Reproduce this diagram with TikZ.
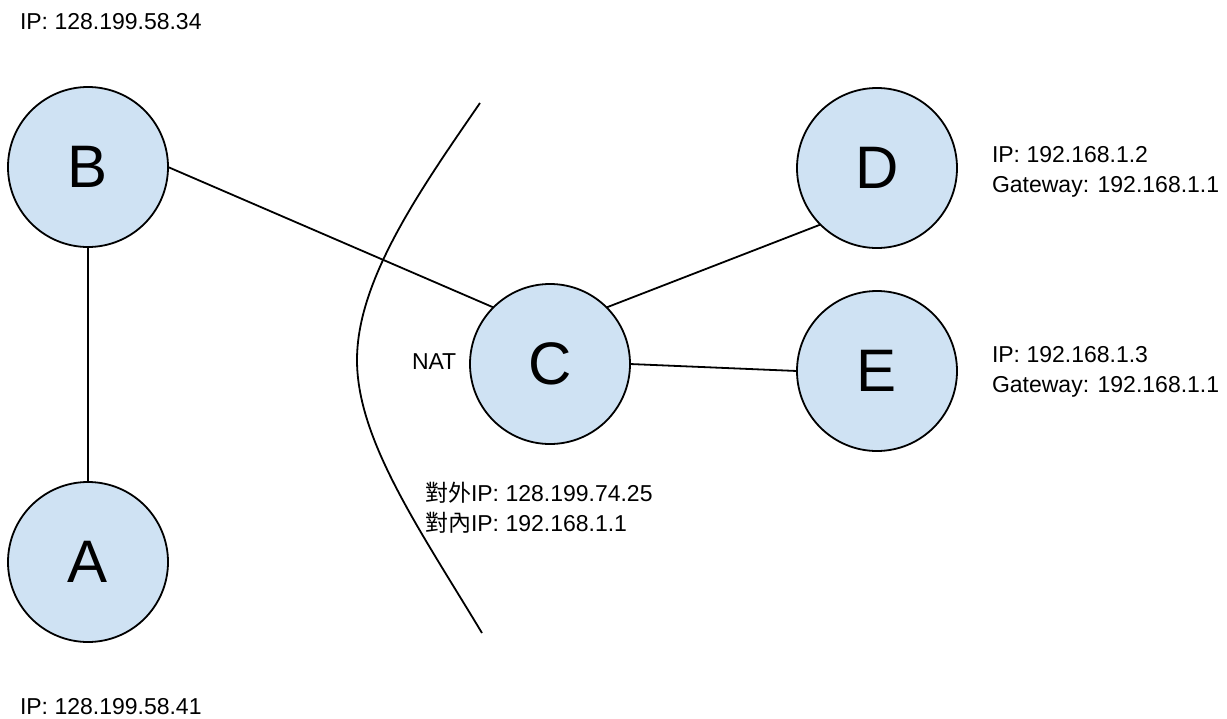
\documentclass[tikz,border=0pt]{standalone}
\usepackage{fontspec}
\setmainfont{Liberation Sans}
\newfontfamily\cjk{Noto Sans CJK TC}
\definecolor{hostblue}{HTML}{CFE2F3}
\begin{document}
\begin{tikzpicture}[y=1pt, x=1pt, yscale=-1, inner sep=0pt, outer sep=0pt,
	host/.style={circle, draw=black, fill=hostblue, line width=1.8, minimum size=160, font=\fontsize{60}{60}\selectfont},
	addr/.style={anchor=west, align=left, font=\fontsize{23}{30}\selectfont},
	link/.style={line width=1.8}]
\useasboundingbox (0,0) rectangle (1227,718);
	\node[host] (B) at (88,167) {B};
	\node[host] (A) at (88,562) {A};
	\node[host] (C) at (550,364) {C};
	\node[host] (D) at (877,168) {D};
	\node[host] (E) at (877,371) {E};
	\draw[link] (B.south) -- (A.north);
	\draw[link] (B.east) -- (C.north west);
	\draw[link] (C.north east) -- (D.south west);
	\draw[link] (C.east) -- (E.west);
	% NAT boundary
	\draw[link] (480,103) .. controls (420,190) and (357,280) .. (357,360) .. controls (357,440) and (420,530) .. (482,633);
	\node[addr] (ipB) at (20,22) {IP: 128.199.58.34};
	\node[addr] (ipA) at (20,707) {IP: 128.199.58.41};
	\node[addr] (ipD) at (992,172) {IP: 192.168.1.2\\Gateway: 192.168.1.1};
	\node[addr] (ipE) at (992,372) {IP: 192.168.1.3\\Gateway: 192.168.1.1};
	\node[addr] (nat) at (412,362) {NAT};
	\node[addr] (ipC) at (425,508) {{\cjk 對外}IP: 128.199.74.25\\{\cjk 對內}IP: 192.168.1.1};
\end{tikzpicture}
\end{document}
